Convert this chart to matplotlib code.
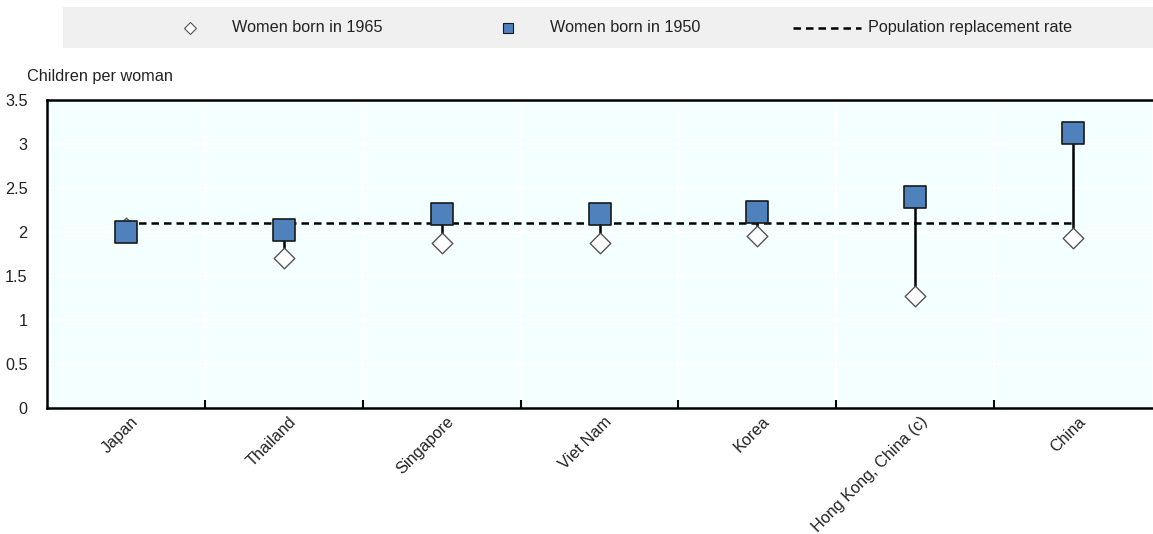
import matplotlib
matplotlib.use("Agg")
import matplotlib.pyplot as plt
import numpy as np

countries = ["Japan", "Thailand", "Singapore", "Viet Nam", "Korea", "Hong Kong, China (c)", "China"]
born_1965 = [2.05, 1.70, 1.87, 1.87, 1.95, 1.27, 1.93]
born_1950 = [2.00, 2.02, 2.20, 2.20, 2.23, 2.40, 3.12]
replacement_rate = 2.1
yticks = [0, 0.5, 1, 1.5, 2, 2.5, 3, 3.5]
ytick_labels = ["0", "0.5", "1", "1.5", "2", "2.5", "3", "3.5"]

plt.rcParams['font.family'] = ['Liberation Sans', 'DejaVu Sans']
FS = 11.7
TC = "#222222"

W, H = 1153, 534
fig = plt.figure(figsize=(W/100, H/100), dpi=100)
ax = fig.add_axes([47/W, 1-408/H, (1152-47)/W, (408-100)/H])
ax.set_facecolor("#F4FFFF")

x = np.arange(len(countries))
ax.set_xlim(-0.5, len(countries)-0.5)
ax.set_ylim(0, 3.5)

for b in np.arange(0.5, len(countries)-0.5, 1):
    ax.axvline(b, color="white", lw=1.5, zorder=1)
for yv in yticks[1:-1]:
    ax.axhline(yv, color="white", lw=1.5, zorder=1)

for xi, a, b in zip(x, born_1965, born_1950):
    ax.plot([xi, xi], [a, b], color="black", lw=1.8, zorder=2)

ax.plot([x[0], x[-1]], [replacement_rate]*2, color="black", lw=1.8, ls=(0, (3, 2)), zorder=3)

ax.scatter(x, born_1965, marker="D", s=110, facecolor="white", edgecolor="#555555", linewidths=1.0, zorder=4)
ax.scatter(x, born_1950, marker="s", s=260, facecolor="#4F81BD", edgecolor="#1a1a1a", linewidths=1.2, zorder=5)

ax.set_yticks(yticks)
ax.set_yticklabels(ytick_labels, fontsize=FS, color=TC)
ax.set_xticks(np.arange(0.5, len(countries)-0.5, 1))
ax.set_xticklabels([])
ax.tick_params(axis="x", direction="in", length=6, width=1.5, color="black")
ax.tick_params(axis="y", length=0, pad=14)
for xi, c in zip(x, countries):
    ax.text(xi + 0.03, -0.07, c, rotation=45, ha="right", va="top", fontsize=FS,
            rotation_mode="anchor", color=TC)

for s in ["left", "bottom", "top"]:
    ax.spines[s].set_linewidth(1.8)
    ax.spines[s].set_color("black")
ax.spines["right"].set_visible(False)

fig.text(27/W, 1-76/H, "Children per woman", fontsize=FS, va="center", ha="left", color=TC)

lax = fig.add_axes([63/W, 1-48/H, (1153-63)/W, 41/H])
lax.set_xlim(63, 1153)
lax.set_ylim(0, 1)
lax.set_facecolor("#F0F0F0")
lax.set_xticks([]); lax.set_yticks([])
for s in lax.spines.values():
    s.set_visible(False)
lax.plot([190], [0.5], marker="D", ms=6, mfc="white", mec="#555555", mew=0.8)
lax.text(232, 0.5, "Women born in 1965", va="center", fontsize=FS, color=TC)
lax.plot([508], [0.5], marker="s", ms=7, mfc="#4F81BD", mec="#1a1a1a", mew=0.8)
lax.text(550, 0.5, "Women born in 1950", va="center", fontsize=FS, color=TC)
lax.plot([793, 861], [0.5, 0.5], color="black", lw=1.8, ls=(0, (3, 2)))
lax.text(868, 0.5, "Population replacement rate", va="center", fontsize=FS, color=TC)

fig.savefig("out.png", dpi=100)
